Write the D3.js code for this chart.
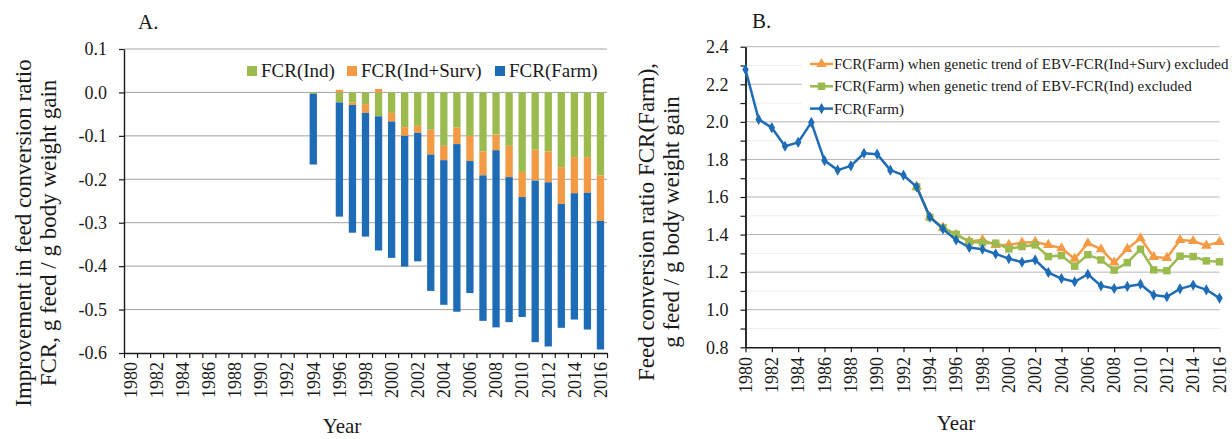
<!DOCTYPE html>
<html>
<head>
<meta charset="utf-8">
<script src="https://cdn.jsdelivr.net/npm/d3@7"></script>
<style>
  body { margin: 0; background: #fff; }
  svg text { font-family: "Liberation Serif", "Times New Roman", serif; fill: #1a1a1a; }
</style>
</head>
<body>
<div id="chart"></div>
<script>
// categories
var allYears = [1980, 1981, 1982, 1983, 1984, 1985, 1986, 1987, 1988, 1989, 1990, 1991, 1992,
  1993, 1994, 1995, 1996, 1997, 1998, 1999, 2000, 2001, 2002, 2003, 2004, 2005, 2006,
  2007, 2008, 2009, 2010, 2011, 2012, 2013, 2014, 2015, 2016];
var labelYears = [1980, 1982, 1984, 1986, 1988, 1990, 1992, 1994, 1996, 1998, 2000,
  2002, 2004, 2006, 2008, 2010, 2012, 2014, 2016];

// panel A, stacked segments
var barYears = [1994, 1996, 1997, 1998, 1999, 2000, 2001, 2002, 2003, 2004, 2005,
  2006, 2007, 2008, 2009, 2010, 2011, 2012, 2013, 2014, 2015, 2016];
var indVals = [-0.003, -0.023, -0.023, -0.027, -0.055, -0.047, -0.080, -0.077, -0.086, -0.123, -0.081,
  -0.100, -0.136, -0.097, -0.123, -0.183, -0.132, -0.136, -0.172, -0.149, -0.149, -0.191];
var survVals = [0, 0.006, -0.006, -0.020, 0.008, -0.020, -0.020, -0.016, -0.057, -0.033, -0.038,
  -0.058, -0.055, -0.036, -0.072, -0.058, -0.071, -0.071, -0.085, -0.083, -0.082, -0.105];
var farmVals = [-0.163, -0.263, -0.294, -0.285, -0.309, -0.314, -0.301, -0.296, -0.314, -0.333, -0.386,
  -0.304, -0.335, -0.408, -0.334, -0.276, -0.372, -0.378, -0.285, -0.291, -0.315, -0.296];
var yTicksA = [0.1, 0, -0.1, -0.2, -0.3, -0.4, -0.5, -0.6];
var yTickLabelsA = ["0.1", "0.0", "-0.1", "-0.2", "-0.3", "-0.4", "-0.5", "-0.6"];

// panel B, lines
var farmFcr = [2.278, 2.013, 1.969, 1.870, 1.891, 1.997, 1.794, 1.743, 1.766, 1.833, 1.828, 1.743,
  1.716, 1.654, 1.493, 1.430, 1.371, 1.331, 1.322, 1.297, 1.272, 1.253, 1.265, 1.198, 1.166,
  1.149, 1.189, 1.127, 1.113, 1.124, 1.136, 1.078, 1.069, 1.111, 1.131, 1.106, 1.062];
var exclYears = [1993, 1994, 1995, 1996, 1997, 1998, 1999, 2000, 2001, 2002, 2003, 2004,
  2005, 2006, 2007, 2008, 2009, 2010, 2011, 2012, 2013, 2014, 2015, 2016];
var indExcl = [1.654, 1.492, 1.437, 1.401, 1.362, 1.357, 1.354, 1.324, 1.336, 1.345, 1.283, 1.288,
  1.232, 1.293, 1.265, 1.211, 1.251, 1.322, 1.212, 1.208, 1.285, 1.283, 1.260, 1.255];
var indSurvExcl = [1.654, 1.492, 1.437, 1.398, 1.365, 1.371, 1.345, 1.345, 1.357, 1.361, 1.345, 1.327,
  1.271, 1.354, 1.322, 1.251, 1.324, 1.380, 1.281, 1.276, 1.371, 1.366, 1.341, 1.361];
var yTicksB = [0.8, 1.0, 1.2, 1.4, 1.6, 1.8, 2.0, 2.2, 2.4];
var yMinorB = [0.9, 1.1, 1.3, 1.5, 1.7, 1.9, 2.1, 2.3];
var yTickLabelsB = ["0.8", "1.0", "1.2", "1.4", "1.6", "1.8", "2.0", "2.2", "2.4"];

var green = "#9bbb4f", orange = "#f39a45", blue = "#1f6cb6";
var serif = "'Liberation Serif', 'Times New Roman', serif";

var svg = d3.select("#chart").append("svg")
  .attr("width", 1232).attr("height", 439)
  .attr("font-family", serif);

// ---------- panel A ----------
var xA = d3.scaleBand().domain(allYears).range([124, 607])
  .paddingInner(0.44).paddingOuter(0.22);
var xEdge = d3.scaleLinear().domain([1979.5, 2016.5]).range([124, 607]);
var yA = d3.scaleLinear().domain([-0.6, 0.1]).range([353, 49]);

var gA = svg.append("g");

gA.selectAll("line.grid")
  .data(yTicksA.filter(function(d){ return d > -0.6; }))
  .enter().append("line")
  .attr("x1", 124).attr("x2", 607)
  .attr("y1", function(d){ return yA(d); })
  .attr("y2", function(d){ return yA(d); })
  .attr("stroke", "#a3a3a3").attr("stroke-width", 1);

var rows = barYears.map(function(y, i){
  return {year: y, ind: indVals[i], surv: survVals[i], farm: farmVals[i]};
});
var stack = d3.stack().keys(["ind", "surv", "farm"]).offset(d3.stackOffsetDiverging);
var colorA = {ind: green, surv: orange, farm: blue};

gA.selectAll("g.series")
  .data(stack(rows))
  .enter().append("g")
  .attr("fill", function(d){ return colorA[d.key]; })
  .selectAll("rect")
  .data(function(d){ return d; })
  .enter().append("rect")
  .attr("x", function(d){ return xA(d.data.year); })
  .attr("width", xA.bandwidth())
  .attr("y", function(d){ return yA(Math.max(d[0], d[1])); })
  .attr("height", function(d){ return Math.abs(yA(d[0]) - yA(d[1])); });

var axisLeftA = d3.axisLeft(yA).tickValues(yTicksA)
  .tickFormat(function(d, i){ return yTickLabelsA[i]; })
  .tickSize(5).tickSizeOuter(0).tickPadding(12);
gA.append("g").attr("transform", "translate(124,0)").call(axisLeftA);

var axisBottomA = d3.axisBottom(xEdge).tickValues(d3.range(1979.5, 2017, 1))
  .tickFormat("").tickSize(5).tickSizeOuter(0);
gA.append("g").attr("transform", "translate(0,353)").call(axisBottomA);

gA.selectAll("text.xl")
  .data(labelYears).enter().append("text")
  .attr("transform", function(d){
    return "translate(" + (xA(d) + xA.bandwidth() / 2) + ",362) rotate(-90)";
  })
  .attr("text-anchor", "end").attr("dy", "0.35em")
  .style("font-size", "18px")
  .text(function(d){ return d; });

gA.append("text").attr("x", 138).attr("y", 29).style("font-size", "21px").text("A.");
gA.append("text").attr("x", 342).attr("y", 433).attr("text-anchor", "middle")
  .style("font-size", "21px").text("Year");
gA.append("text").attr("transform", "translate(31,233) rotate(-90)")
  .attr("text-anchor", "middle").style("font-size", "23px")
  .text("Improvement in feed conversion ratio");
gA.append("text").attr("transform", "translate(56,233) rotate(-90)")
  .attr("text-anchor", "middle").style("font-size", "23px")
  .text("FCR, g feed / g body weight gain");

// legend A
var legA = [
  {name: "FCR(Ind)", color: green, x: 247},
  {name: "FCR(Ind+Surv)", color: orange, x: 347},
  {name: "FCR(Farm)", color: blue, x: 495}
];
var la = gA.selectAll("g.leg").data(legA).enter().append("g")
  .attr("transform", function(d){ return "translate(" + d.x + ",66)"; });
la.append("rect").attr("width", 10).attr("height", 10)
  .attr("fill", function(d){ return d.color; });
la.append("text").attr("x", 14).attr("y", 10.5).style("font-size", "19px")
  .text(function(d){ return d.name; });

// ---------- panel B ----------
var xB = d3.scaleLinear().domain([1980, 2016]).range([745.5, 1219.5]);
var yB = d3.scaleLinear().domain([0.8, 2.4]).range([347.3, 46.7]);
var gB = svg.append("g");

gB.selectAll("line.minor").data(yMinorB).enter().append("line")
  .attr("x1", 745.5).attr("x2", 1219.5)
  .attr("y1", function(d){ return yB(d); }).attr("y2", function(d){ return yB(d); })
  .attr("stroke", "#efefef").attr("stroke-width", 1);
gB.selectAll("line.major").data(yTicksB.filter(function(d){ return d > 0.8; }))
  .enter().append("line")
  .attr("x1", 745.5).attr("x2", 1219.5)
  .attr("y1", function(d){ return yB(d); }).attr("y2", function(d){ return yB(d); })
  .attr("stroke", "#b5b5b5").attr("stroke-width", 1);

// legend background
gB.append("rect").attr("x", 802).attr("y", 52).attr("width", 420).attr("height", 66)
  .attr("fill", "#fff");

gB.append("g").attr("transform", "translate(745.5,0)")
  .call(d3.axisLeft(yB).tickValues(yMinorB).tickFormat("").tickSize(5).tickSizeOuter(0));
gB.append("g").attr("transform", "translate(745.5,0)")
  .call(d3.axisLeft(yB).tickValues(yTicksB)
    .tickFormat(function(d, i){ return yTickLabelsB[i]; })
    .tickSize(5).tickSizeOuter(0).tickPadding(12));
gB.append("g").attr("transform", "translate(0,347.3)")
  .call(d3.axisBottom(xB).tickValues(labelYears).tickFormat("").tickSize(5).tickSizeOuter(0));

gB.selectAll("text.xl")
  .data(labelYears).enter().append("text")
  .attr("transform", function(d){ return "translate(" + xB(d) + ",357) rotate(-90)"; })
  .attr("text-anchor", "end").attr("dy", "0.35em")
  .style("font-size", "18px")
  .text(function(d){ return d; });

var line = d3.line()
  .x(function(d){ return xB(d[0]); })
  .y(function(d){ return yB(d[1]); });

var seriesB = [
  {name: "FCR(Farm) when genetic trend of EBV-FCR(Ind+Surv) excluded", color: orange,
   symbol: d3.symbolTriangle, size: 48,
   pts: exclYears.map(function(y, i){ return [y, indSurvExcl[i]]; })},
  {name: "FCR(Farm) when genetic trend of EBV-FCR(Ind) excluded", color: green,
   symbol: d3.symbolSquare, size: 56,
   pts: exclYears.map(function(y, i){ return [y, indExcl[i]]; })},
  {name: "FCR(Farm)", color: blue,
   symbol: d3.symbolDiamond, size: 36,
   pts: allYears.map(function(y, i){ return [y, farmFcr[i]]; })}
];

seriesB.forEach(function(s, k){
  var g = gB.append("g");
  g.append("path").attr("d", line(s.pts)).attr("fill", "none")
    .attr("stroke", s.color).attr("stroke-width", 2.5).attr("stroke-linejoin", "round");
  g.selectAll("path.m").data(s.pts).enter().append("path")
    .attr("d", d3.symbol().type(s.symbol).size(s.size))
    .attr("transform", function(d){ return "translate(" + xB(d[0]) + "," + yB(d[1]) + ")"; })
    .attr("fill", s.color);

  var ly = 64 + k * 22.3;
  var lg = gB.append("g").attr("transform", "translate(810," + ly + ")");
  lg.append("line").attr("x1", 0).attr("x2", 23).attr("stroke", s.color).attr("stroke-width", 2.5);
  lg.append("path").attr("d", d3.symbol().type(s.symbol).size(s.size))
    .attr("transform", "translate(11.5,0)").attr("fill", s.color);
  lg.append("text").attr("x", 24).attr("y", 5).style("font-size", "15px").text(s.name);
});

gB.append("text").attr("x", 752).attr("y", 28).style("font-size", "21px").text("B.");
gB.append("text").attr("x", 956).attr("y", 430).attr("text-anchor", "middle")
  .style("font-size", "21px").text("Year");
gB.append("text").attr("transform", "translate(654,222) rotate(-90)")
  .attr("text-anchor", "middle").style("font-size", "23px")
  .text("Feed conversion ratio FCR(Farm),");
gB.append("text").attr("transform", "translate(679,222) rotate(-90)")
  .attr("text-anchor", "middle").style("font-size", "23px")
  .text("g feed / g body weight gain");

svg.selectAll(".domain").attr("stroke", "#1a1a1a").attr("stroke-width", 1.4);
svg.selectAll(".tick line").attr("stroke", "#1a1a1a").attr("stroke-width", 1.2);
svg.selectAll(".tick text").style("font-size", "18px")
  .style("font-family", serif).attr("fill", "#1a1a1a");
svg.selectAll("text").style("font-family", serif);
</script>
</body>
</html>
